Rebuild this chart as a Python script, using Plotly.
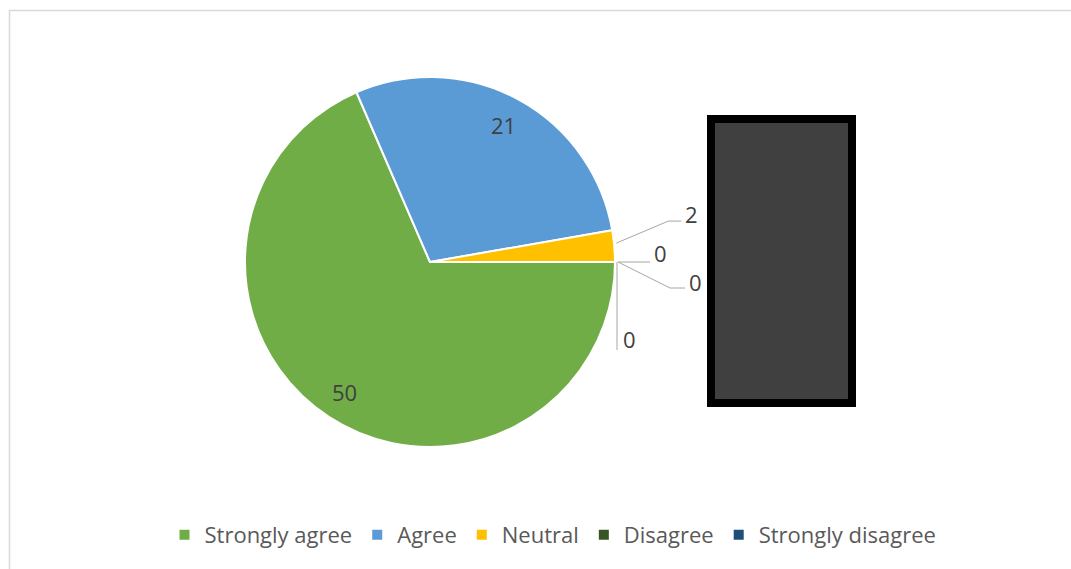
import math
import plotly.graph_objects as go

# ---- data ----
categories = ["Strongly agree", "Agree", "Neutral", "Disagree", "Strongly disagree"]
values = [50, 21, 2, 0, 0]
colors = ["#70AD47", "#5B9BD5", "#FFC000", "#375623", "#1F4E79"]
unlisted_values = [0]  # an extra zero-valued label shown on the chart, not in the legend

W, H = 1071, 569
CX, CY, R = 430, 262, 185  # pie centre / radius in pixels


def px(x):
    return x / W


def py(y):
    return 1 - y / H


fig = go.Figure()
fig.add_trace(go.Pie(
    labels=categories,
    values=values,
    marker=dict(colors=colors, line=dict(color="white", width=2)),
    sort=False,
    direction="clockwise",
    rotation=90,
    textinfo="none",
    hoverinfo="label+value",
    domain=dict(x=[px(CX - R), px(CX + R)], y=[py(CY + R), py(CY - R)]),
))

total = sum(values)
label_font = dict(family="Open Sans", size=22, color="#404040")
annotations = []
shapes = []

# angles (clockwise from 3 o'clock, screen coords)
start = 0.0
mids = []
for v in values:
    span = 360.0 * v / total
    mids.append(start + span / 2)
    start += span


def edge(angle_deg, frac=1.0):
    a = math.radians(angle_deg)
    return CX + frac * R * math.cos(a), CY + frac * R * math.sin(a)


def label(x, y, text, xanchor="center"):
    annotations.append(dict(x=px(x), y=py(y), xref="paper", yref="paper", text=text,
                            showarrow=False, xanchor=xanchor, yanchor="middle", font=label_font))


# inside labels for the large slices
for v, m in zip(values[:2], mids[:2]):
    x, y = edge(m, 0.84)
    label(x, y, str(v))

line_style = dict(color="#A6A6A6", width=1)

# outside label: Neutral (with elbow leader)
ax, ay = edge(mids[2])
shapes.append(dict(type="path", xref="paper", yref="paper",
                   path=f"M {px(ax+2)} {py(ay-3)} L {px(ax+54)} {py(ay-25)} L {px(ax+67)} {py(ay-25)}",
                   line=line_style))
label(ax + 69, ay - 32, str(values[2]), "left")

# zero-valued labels, all anchored at the 3 o'clock edge
zx, zy = edge(mids[3])
zeros = values[3:] + unlisted_values
# zero 1: horizontal leader
shapes.append(dict(type="path", xref="paper", yref="paper",
                   path=f"M {px(zx+3)} {py(zy)} L {px(zx+35)} {py(zy)}", line=line_style))
label(zx + 37, zy - 9, str(zeros[0]), "left")
# zero 2: diagonal + horizontal leader
shapes.append(dict(type="path", xref="paper", yref="paper",
                   path=f"M {px(zx+3)} {py(zy)} L {px(zx+55)} {py(zy+26)} L {px(zx+70)} {py(zy+26)}",
                   line=line_style))
label(zx + 72, zy + 20, str(zeros[1]), "left")
# zero 3: vertical leader
shapes.append(dict(type="path", xref="paper", yref="paper",
                   path=f"M {px(zx+2)} {py(zy)} L {px(zx+2)} {py(zy+88)}", line=line_style))
label(zx + 6, zy + 77, str(zeros[2]), "left")

# chart-area border
shapes.append(dict(type="rect", xref="paper", yref="paper",
                   x0=px(9.5), y0=py(10.5), x1=px(W + 5), y1=py(H + 5),
                   line=dict(color="#D9D9D9", width=1.5), layer="below"))

# dark redaction box
shapes.append(dict(type="rect", xref="paper", yref="paper",
                   x0=px(711), y0=py(119), x1=px(852), y1=py(403),
                   line=dict(color="#000000", width=8), fillcolor="#404040"))

fig.update_layout(
    width=W, height=H,
    margin=dict(l=0, r=0, t=0, b=0),
    paper_bgcolor="white",
    plot_bgcolor="white",
    showlegend=True,
    legend=dict(orientation="h", x=px(553), xanchor="center", y=py(535), yanchor="middle",
                font=dict(family="Open Sans", size=22, color="#595959"),
                itemwidth=30, bgcolor="rgba(0,0,0,0)"),
    annotations=annotations,
    shapes=shapes,
)

fig.write_html("out.html")
